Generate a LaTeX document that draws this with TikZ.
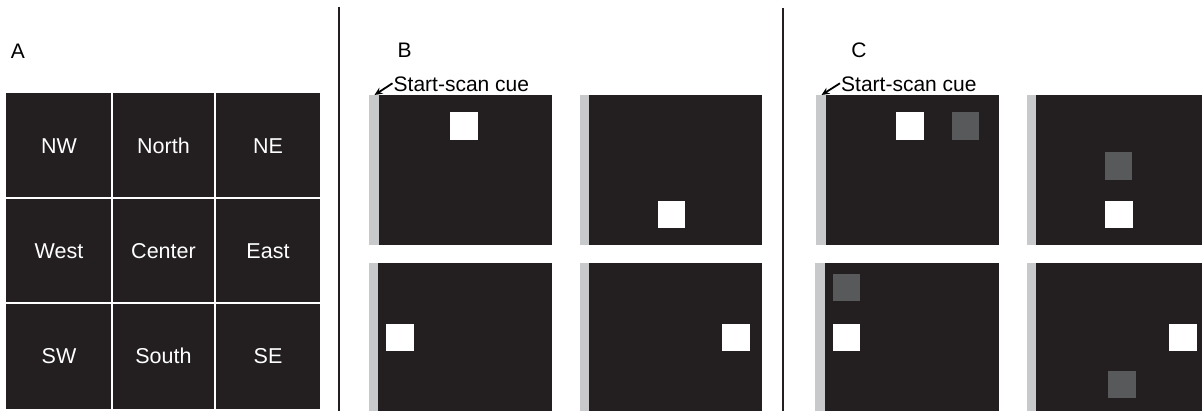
\documentclass[tikz,border=0pt]{standalone}
\usepackage{fontspec}
\setmainfont{Liberation Sans}
\usetikzlibrary{arrows.meta}
\definecolor{bg}{HTML}{231F20}
\definecolor{cuebar}{HTML}{C8C9CB}
\definecolor{dimsq}{HTML}{58595B}
\begin{document}
\begin{tikzpicture}[x=1pt,y=-1pt,
  lbl/.style={font=\fontsize{21}{25}\selectfont, inner sep=0pt},
  cell/.style={font=\fontsize{21.5}{25}\selectfont, text=white, inner sep=0pt},
  darkfill/.style={fill=bg},
  barfill/.style={fill=cuebar},
  whitesq/.style={fill=white},
  graysq/.style={fill=dimsq},
  sep/.style={draw=bg, line width=2pt},
  gridline/.style={draw=white, line width=2.5pt},
  cuearrow/.style={draw=black, line width=1.8pt, -{Stealth[length=8pt,width=7pt]}}]
\useasboundingbox (0,0) rectangle (1202,411);
\fill[white] (0,0) rectangle (1202,411);
% separators
\coordinate (s1t) at (339,7); \coordinate (s1b) at (339,411);
\coordinate (s2t) at (782.5,8); \coordinate (s2b) at (782.5,411);
\draw[sep] (s1t) -- (s1b);
\draw[sep] (s2t) -- (s2b);
% panel letters
\node[lbl] (A) at (18,51.5) {A};
\node[lbl] (B) at (404.5,50) {B};
\node[lbl] (C) at (859,50) {C};
% panel A grid
\fill[darkfill] (6,93) rectangle (320,408.5);
\draw[gridline] (112,93) -- (112,408.5);
\draw[gridline] (215,93) -- (215,408.5);
\draw[gridline] (6,198) -- (320,198);
\draw[gridline] (6,303) -- (320,303);
\node[cell] (nw) at (59,146) {NW};
\node[cell] (n) at (163.5,146) {North};
\node[cell] (ne) at (268,146) {NE};
\node[cell] (w) at (59,251) {West};
\node[cell] (c) at (163.5,251) {Center};
\node[cell] (e) at (268,251) {East};
\node[cell] (sw) at (59,356) {SW};
\node[cell] (s) at (163.5,356) {South};
\node[cell] (se) at (268,356) {SE};
% panel B frames
\fill[barfill] (369,95) rectangle (379,245);
\fill[darkfill] (379,95) rectangle (552,245);
\fill[barfill] (580,95) rectangle (589,245);
\fill[darkfill] (589,95) rectangle (762,245);
\fill[barfill] (368.5,263) rectangle (378,411);
\fill[darkfill] (378,263) rectangle (552,411);
\fill[barfill] (579.5,263) rectangle (589,411);
\fill[darkfill] (589,263) rectangle (762,411);
\fill[whitesq] (450,112.3) rectangle ++(27.5,27.5);
\fill[whitesq] (657.7,201) rectangle ++(27.5,27.5);
\fill[whitesq] (386,324) rectangle ++(27.5,27.5);
\fill[whitesq] (722,324) rectangle ++(27.5,27.5);
% panel C frames
\fill[barfill] (816,95) rectangle (825.7,245);
\fill[darkfill] (825.7,95) rectangle (999.3,245);
\fill[barfill] (1026.7,95) rectangle (1036,245);
\fill[darkfill] (1036,95) rectangle (1202,245);
\fill[barfill] (815,263) rectangle (824.5,411);
\fill[darkfill] (824.5,263) rectangle (999.3,411);
\fill[barfill] (1026.7,263) rectangle (1036,411);
\fill[darkfill] (1036,263) rectangle (1202,411);
\fill[whitesq] (896.3,112.3) rectangle ++(27.5,27.5);
\fill[graysq] (951.7,112.3) rectangle ++(27.5,27.5);
\fill[graysq] (1104.5,152.3) rectangle ++(27.5,27.5);
\fill[whitesq] (1105,201) rectangle ++(27.5,27.5);
\fill[graysq] (832.7,274) rectangle ++(27.5,27.5);
\fill[whitesq] (832.7,324) rectangle ++(27.5,27.5);
\fill[whitesq] (1169,324) rectangle ++(27.5,27.5);
\fill[graysq] (1108.3,370.7) rectangle ++(27.5,27.5);
% start-scan cues
\node[lbl, anchor=base west] (cueB) at (393.5,91.5) {Start-scan cue};
\coordinate (tipB) at (374.5,95);
\draw[cuearrow] (cueB.west) ++(-1,-1) -- (tipB);
\node[lbl, anchor=base west] (cueC) at (841,91.5) {Start-scan cue};
\coordinate (tipC) at (821.5,95);
\draw[cuearrow] (cueC.west) ++(-1,-1) -- (tipC);
\end{tikzpicture}
\end{document}
